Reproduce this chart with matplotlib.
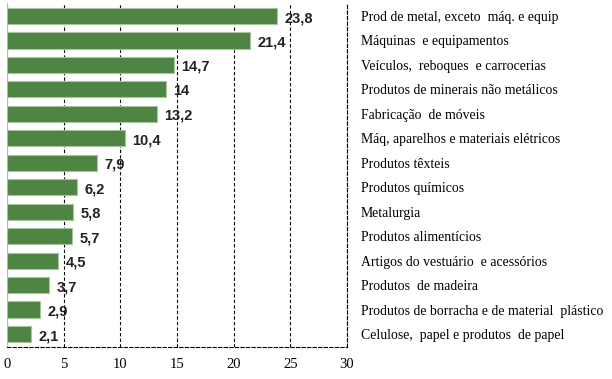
import matplotlib.pyplot as plt

categorias = [
    "Prod de metal, exceto  máq. e equip",
    "Máquinas  e equipamentos",
    "Veículos,  reboques  e carrocerias",
    "Produtos de minerais não metálicos",
    "Fabricação  de móveis",
    "Máq, aparelhos e materiais elétricos",
    "Produtos têxteis",
    "Produtos químicos",
    "Metalurgia",
    "Produtos alimentícios",
    "Artigos do vestuário  e acessórios",
    "Produtos  de madeira",
    "Produtos de borracha e de material  plástico",
    "Celulose,  papel e produtos  de papel",
]
valores = [23.8, 21.4, 14.7, 14, 13.2, 10.4, 7.9, 6.2, 5.8, 5.7, 4.5, 3.7, 2.9, 2.1]
rotulos = ["23,8", "21,4", "14,7", "14", "13,2", "10,4", "7,9", "6,2", "5,8", "5,7", "4,5", "3,7", "2,9", "2,1"]

fig = plt.figure(figsize=(6.12, 3.79), dpi=100)
ax = fig.add_axes([7 / 612, 32 / 379, 340 / 612, 344 / 379])

pos = list(range(len(categorias)))
ax.barh(pos, valores, height=0.66, color='#4E8542', edgecolor='#A9C49E', linewidth=0.8, zorder=3)

# rótulos de valor à direita das barras
for y, v, r in zip(pos, valores, rotulos):
    ax.annotate(r, (v, y), xytext=(5.5, -1.5), textcoords='offset points',
                ha='left', va='center', fontsize=10.5, fontweight='bold',
                family='Liberation Sans', color='#222222', zorder=4)

ax.set_xlim(0, 30)
ax.set_ylim(len(categorias) - 0.47, -0.53)
ax.set_xticks(range(0, 31, 5))
ax.xaxis.grid(True, color='black', linestyle=(0, (3, 2)), linewidth=0.8)
ax.set_axisbelow(True)

ax.yaxis.tick_right()
ax.set_yticks(pos)
ax.set_yticklabels(categorias, family='Liberation Serif', fontsize=9.9)
ax.tick_params(axis='y', length=0, pad=10)
ax.tick_params(axis='x', length=0, pad=8)
for lbl in ax.get_xticklabels():
    lbl.set_family('Liberation Serif')
    lbl.set_fontsize(10.5)

ax.spines['top'].set_visible(False)
ax.spines['left'].set_color('#BBBBBB')
for s in ['right', 'bottom']:
    ax.spines[s].set_linestyle((0, (3, 2)))
    ax.spines[s].set_linewidth(0.8)

fig.savefig('out.png', dpi=100)
